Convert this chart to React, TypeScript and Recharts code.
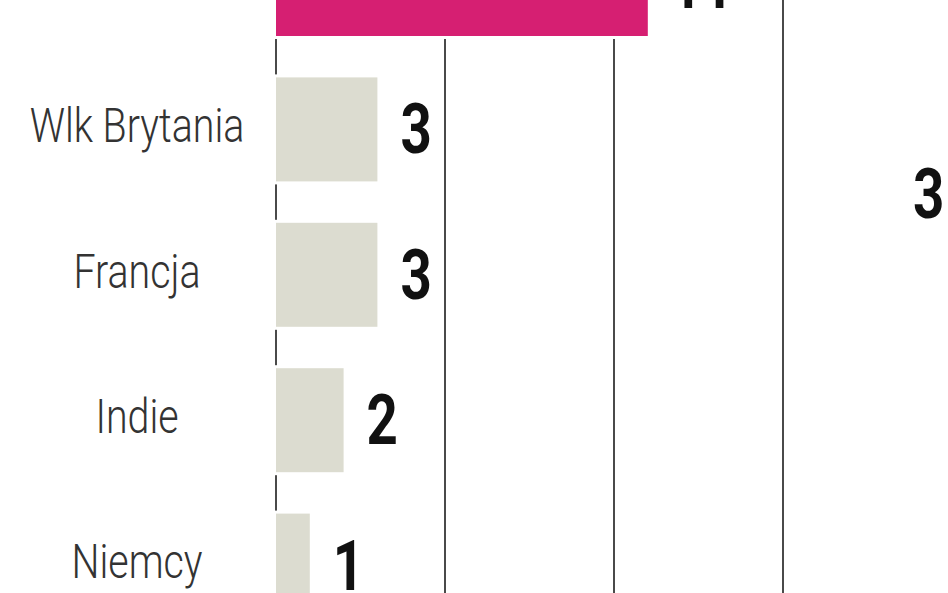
import React from 'react';
import { BarChart, Bar, XAxis, YAxis, CartesianGrid, Cell, LabelList } from 'recharts';

// Countries and their counts
const categories = ['USA', 'Wlk Brytania', 'Francja', 'Indie', 'Niemcy'];
const values = [11, 3, 3, 2, 1];
const highlighted = ['USA'];

// Value axis
const xTicks = [0, 5, 10, 15, 20];
const xDomain: [number, number] = [0, 20];

// Loose figure shown at the right edge
const sideNote = '3';

const data = categories.map((name, i) => ({ name, value: values[i] }));

const FONT = "Roboto, 'DejaVu Sans', sans-serif";
const PINK = '#d61f72';
const GREY_BAR = '#dcdcd0';
const NARROW_LABEL = 0.82;
const NARROW_VALUE = 0.78;

const CountryTick = (props: any) => {
  const { x, y, payload } = props;
  return (
    <text
      transform={`translate(${x - 131},${y + 13}) scale(${NARROW_LABEL},1)`}
      textAnchor="middle"
      fontFamily={FONT}
      fontWeight={300}
      fontSize={48}
      fill="#333333"
    >
      {payload.value}
    </text>
  );
};

// Bar with a thin white halo so the axis line breaks around it
const HaloBar = (props: any) => {
  const { x, y, width, height, fill } = props;
  return (
    <g>
      <rect x={x - 3} y={y - 3} width={width + 3} height={height + 6} fill="#ffffff" />
      <rect x={x} y={y} width={width} height={height} fill={fill} />
    </g>
  );
};

const ValueLabel = (props: any) => {
  const { x, y, width, height, value } = props;
  return (
    <text
      transform={`translate(${x + width + 23},${y + height / 2 + 24}) scale(${NARROW_VALUE},1)`}
      textAnchor="start"
      fontFamily={FONT}
      fontWeight={700}
      fontSize={70}
      fill="#111111"
    >
      {value}
    </text>
  );
};

export default function App() {
  return (
    <div
      style={{
        position: 'fixed',
        left: 0,
        top: 0,
        width: 948,
        height: 593,
        overflow: 'hidden',
        background: '#ffffff',
      }}
    >
      <div style={{ position: 'absolute', left: 0, top: -89 }}>
        <BarChart
          width={960}
          height={727}
          data={data}
          layout="vertical"
          margin={{ top: 0, right: 8, bottom: 0, left: 0 }}
        >
          <CartesianGrid horizontal={false} vertical stroke="#4a4a4a" strokeWidth={2} />
          <XAxis type="number" domain={xDomain} ticks={xTicks} hide />
          <YAxis
            type="category"
            dataKey="name"
            width={276}
            axisLine={false}
            tickLine={false}
            tick={<CountryTick />}
            interval={0}
          />
          <Bar dataKey="value" barSize={104} isAnimationActive={false} shape={<HaloBar />}>
            {data.map((d) => (
              <Cell key={d.name} fill={highlighted.includes(d.name) ? PINK : GREY_BAR} />
            ))}
            <LabelList dataKey="value" content={<ValueLabel />} />
          </Bar>
        </BarChart>
      </div>
      <svg
        width={948}
        height={593}
        style={{ position: 'absolute', left: 0, top: 0, pointerEvents: 'none' }}
      >
        <text
          transform={`translate(913,218) scale(${NARROW_VALUE},1)`}
          fontFamily={FONT}
          fontWeight={700}
          fontSize={70}
          fill="#111111"
        >
          {sideNote}
        </text>
      </svg>
    </div>
  );
}
